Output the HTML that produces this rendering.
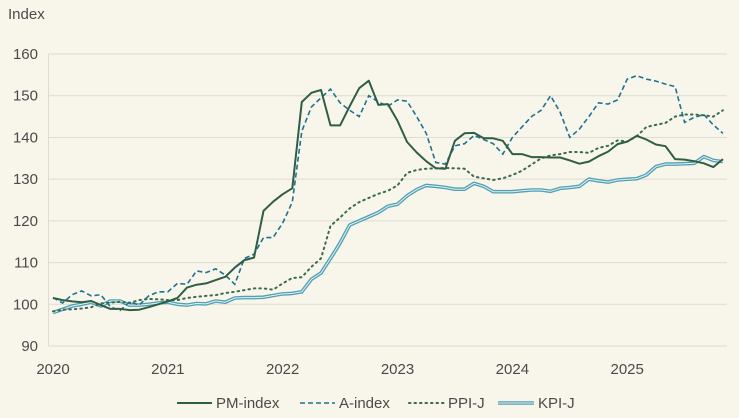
<!DOCTYPE html><html><head><style>body{margin:0;background:#f8f6ea}svg{display:block;font-family:"Liberation Sans",sans-serif}</style></head><body>
<svg id="s" width="739" height="418" xmlns="http://www.w3.org/2000/svg">
<rect width="739" height="418" fill="#f8f6ea"/>
<text x="8" y="19" font-size="15" fill="#4a4a4a">Index</text>
<g id="grid"></g>
<g id="lines"></g>
<g font-size="15" fill="#4a4a4a">
<line x1="177" y1="403" x2="212" y2="403" stroke="#2f5e45" stroke-width="2"/><text x="216" y="408">PM-index</text>
<line x1="300" y1="403" x2="335" y2="403" stroke="#1e7290" stroke-width="1.6" stroke-dasharray="5,3"/><text x="339" y="408">A-index</text>
<line x1="409" y1="403" x2="444" y2="403" stroke="#3a6b4e" stroke-width="2" stroke-dasharray="1.5,4" stroke-linecap="round"/><text x="448" y="408">PPI-J</text>
<line x1="498" y1="403" x2="534" y2="403" stroke="#4f9fb5" stroke-width="3.6"/><line x1="498" y1="403" x2="534" y2="403" stroke="#e6f1ee" stroke-width="1"/><text x="538" y="408">KPI-J</text>
</g>
</svg>
<script>
var NS="http://www.w3.org/2000/svg";
function Y(v){return 346-(v-90)*4.171}
function X(i){return 53+i*9.57}
var g=document.getElementById('grid'),L=document.getElementById('lines');
function el(p,t,a){var e=document.createElementNS(NS,t);for(var k in a)e.setAttribute(k,a[k]);p.appendChild(e);return e}
for(var v=90;v<=160;v+=10){el(g,'line',{x1:48,x2:727,y1:Y(v),y2:Y(v),stroke:'#dddbd2','stroke-width':1});var t=el(g,'text',{x:38,y:Y(v)+5,'font-size':15,fill:'#4a4a4a','text-anchor':'end'});t.textContent=v}
el(g,'line',{x1:48.5,x2:48.5,y1:Y(160),y2:Y(90),stroke:'#dddbd2'});
for(var yr=0;yr<6;yr++){var t=el(g,'text',{x:X(yr*12),y:374,'font-size':15,fill:'#4a4a4a','text-anchor':'middle'});t.textContent=2020+yr}
var PM=[101.5,101,100.7,100.5,100.8,99.8,98.9,98.9,98.6,98.7,99.3,100,100.7,101.5,104,104.7,105,105.8,106.6,108.8,110.6,111.2,122.4,124.6,126.4,127.8,148.5,150.7,151.4,142.9,142.9,147.5,151.8,153.6,147.8,148,144,138.9,136.4,134.3,132.6,132.5,139.2,141,141.1,139.8,139.8,139.2,136,136,135.3,135.3,135.2,135.2,134.5,133.7,134.2,135.5,136.6,138.4,139,140.4,139.5,138.3,137.9,134.8,134.7,134.3,133.8,132.9,134.8];
var A=[101.6,100.3,102.3,103.2,102,102.3,99.4,98.5,100.6,99.8,102,103,103,105,104.8,108,107.6,108.5,107,104.8,111,112,116,116,119.5,124.5,141.5,147.3,149.5,151.6,148.3,146.5,145,150,148.5,147.5,149,148.7,145,141,134,133.6,138,138.5,140.5,139.5,138.5,136,140,142.5,145,146.5,150,146,140,142,145,148.3,148,149,154,154.8,154,153.5,152.8,152.2,143.6,144.8,145.5,143,141];
var P=[98.3,98.7,98.8,99,99.3,100.2,100.4,100.6,100.3,101,101.3,101.2,101,101,101.5,101.8,102,102.2,102.7,103,103.4,103.8,103.8,103.5,105,106.3,106.5,109,111,118.8,120.8,123,124.5,125.5,126.5,127.2,128.5,131.5,132.2,132.5,132.6,132.7,132.6,132.5,130.6,130.2,129.8,130.2,131,132,133.5,135,135.7,136,136.5,136.5,136.3,137.5,138,139.3,139,140.3,142.5,143,143.5,145,145.5,145.5,145.3,145,146.5];
var K=[98,98.8,99.6,100,100.5,99.6,100.8,100.8,99.8,99.8,100,100.3,100.5,100,99.8,100.2,100.1,100.8,100.5,101.5,101.6,101.6,101.7,102.1,102.5,102.6,103,106,107.5,111,114.7,119,120,121,122,123.5,124,126,127.5,128.5,128.3,128,127.6,127.6,129,128.3,127,127,127,127.2,127.4,127.4,127.1,127.8,128,128.3,130,129.6,129.3,129.8,130,130.1,131,133,133.6,133.6,133.7,133.8,135.4,134.5,134.2];
function pts(a){return a.map(function(v,i){return X(i).toFixed(1)+','+Y(v).toFixed(1)}).join(' ')}
el(L,'polyline',{points:pts(K),fill:'none',stroke:'#4f9fb5','stroke-width':3.6,'stroke-linejoin':'round'});
el(L,'polyline',{points:pts(K),fill:'none',stroke:'#e6f1ee','stroke-width':1,'stroke-linejoin':'round'});
el(L,'polyline',{points:pts(P),fill:'none',stroke:'#3a6b4e','stroke-width':2,'stroke-dasharray':'1.5,4','stroke-linecap':'round'});
el(L,'polyline',{points:pts(A),fill:'none',stroke:'#1e7290','stroke-width':1.6,'stroke-dasharray':'5,3'});
el(L,'polyline',{points:pts(PM),fill:'none',stroke:'#2f5e45','stroke-width':2,'stroke-linejoin':'round'});
</script>
</body></html>
